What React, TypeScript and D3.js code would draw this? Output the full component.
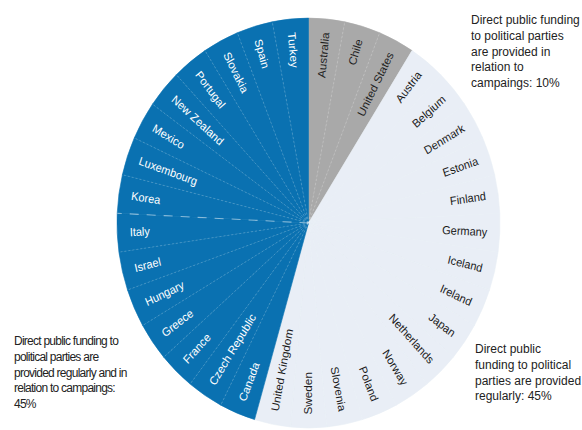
import React from "react";
import * as d3 from "d3";

const countries = [
  "Australia", "Chile", "United States",
  "Austria", "Belgium", "Denmark", "Estonia", "Finland", "Germany", "Iceland",
  "Ireland", "Japan", "Netherlands", "Norway", "Poland", "Slovenia", "Sweden",
  "United Kingdom",
  "Canada", "Czech Republic", "France", "Greece", "Hungary", "Israel", "Italy",
  "Korea", "Luxembourg", "Mexico", "New Zealand", "Portugal", "Slovakia", "Spain",
  "Turkey",
];
const groupOf = [
  "campaign", "campaign", "campaign",
  "regular", "regular", "regular", "regular", "regular", "regular", "regular",
  "regular", "regular", "regular", "regular", "regular", "regular", "regular",
  "regular",
  "both", "both", "both", "both", "both", "both", "both",
  "both", "both", "both", "both", "both", "both", "both",
  "both",
];
const values = countries.map(() => 1);

const groupKeys = ["campaign", "regular", "both"];
const groupColors = ["#a9a9a9", "#e9eef6", "#0a71b1"];
const groupText = ["#1f1f1f", "#1a1a1a", "#ffffff"];

const noteCampaign = ["Direct public funding", "to political parties", "are provided in", "relation to", "campaings:  10%"];
const noteRegular = ["Direct public", "funding to political", "parties are provided", "regularly: 45%"];
const noteBoth = ["Direct public funding to", "political parties are", "provided regularly and in", "relation to campaings:", "45%"];

export default function App() {
  const W = 582, H = 430;
  const cx = 308.5, cy = 223, R = 191.5, sy = 1.07;
  const color = d3.scaleOrdinal<string, string>().domain(groupKeys).range(groupColors);
  const tcolor = d3.scaleOrdinal<string, string>().domain(groupKeys).range(groupText);
  const pie = d3.pie<number>().sort(null).value((d) => d);
  const arcs = pie(values);
  const arc = d3.arc<d3.PieArcDatum<number>>().innerRadius(0).outerRadius(R);
  const rl = 179;
  const font = "Arial, 'Liberation Sans', Helvetica, sans-serif";

  return (
    <svg width={W} height={H} style={{ position: "absolute", left: 0, top: 0, background: "#fff" }}>
      <g transform={`translate(${cx},${cy}) scale(1,${sy})`}>
        {arcs.map((a, i) => (
          <path key={"s" + i} d={arc(a) || ""} fill={color(groupOf[i])} stroke={color(groupOf[i])} strokeWidth={0.6} />
        ))}
        {arcs.map((a, i) => {
          if (i === 0 || groupOf[i] !== groupOf[i - 1]) return null;
          const ang = a.startAngle;
          const x = R * Math.sin(ang), y = -R * Math.cos(ang);
          const isLong = countries[i] === "Korea";
          const g = groupOf[i];
          if (g === "regular") return null;
          return (
            <line key={"d" + i} x1={0} y1={0} x2={x} y2={y}
              stroke="#ffffff" strokeOpacity={isLong ? 0.5 : 0.35}
              strokeWidth={isLong ? 1 : 0.6}
              strokeDasharray={isLong ? "9,8" : "2,2"} />
          );
        })}
        {arcs.map((a, i) => {
          const mid = ((a.startAngle + a.endAngle) / 2) * 180 / Math.PI;
          const left = mid >= 179.9;
          const tf = left
            ? `rotate(${mid - 90}) translate(${rl},0) rotate(180)`
            : `rotate(${mid - 90}) translate(${rl},0)`;
          return (
            <text key={"t" + i} transform={tf} textAnchor={left ? "start" : "end"} dy="0.35em"
              fontFamily={font} fontSize={11} fill={tcolor(groupOf[i])}>
              {countries[i]}
            </text>
          );
        })}
      </g>
      <text fontFamily={font} fontSize={12} fill="#222">
        {noteCampaign.map((l, i) => (
          <tspan key={i} x={471} y={24 + i * 15.75}>{l}</tspan>
        ))}
      </text>
      <text fontFamily={font} fontSize={12} fill="#222">
        {noteRegular.map((l, i) => (
          <tspan key={i} x={475} y={353 + i * 15.75}>{l}</tspan>
        ))}
      </text>
      <text fontFamily={font} fontSize={12} fill="#222" letterSpacing={-0.75}>
        {noteBoth.map((l, i) => (
          <tspan key={i} x={14} y={345 + i * 15.75}>{l}</tspan>
        ))}
      </text>
    </svg>
  );
}
